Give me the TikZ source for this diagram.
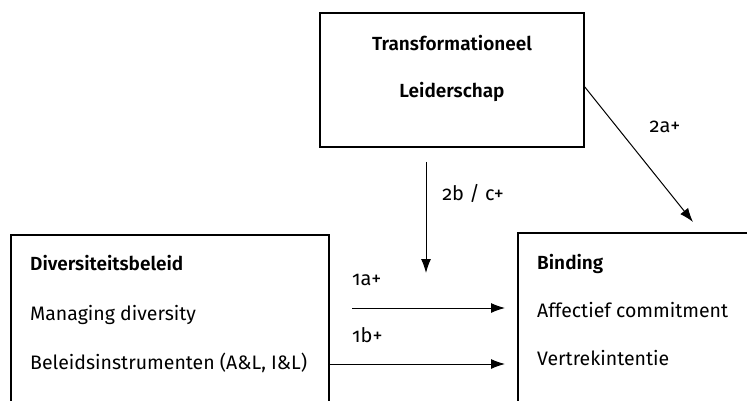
\documentclass[tikz,border=0pt]{standalone}
\usepackage{fontspec}
\setmainfont[Numbers=OldStyle,BoldFont={Fira Sans SemiBold}]{Fira Sans}
\usetikzlibrary{arrows.meta,positioning}

\begin{document}
\begin{tikzpicture}[x=1pt,y=-1pt,>={Latex[length=14pt,width=10pt]},
        box/.style={draw,line width=1.1pt,inner sep=0pt},
        txt/.style={anchor=mid west,inner sep=0pt,font=\fontsize{19.5}{23}\selectfont},
        head/.style={txt,font=\fontsize{19}{23}\selectfont\bfseries},
        lbl/.style={inner sep=0pt,font=\fontsize{20}{23}\selectfont},
        arr/.style={->,line width=1pt}]
        \clip (0,0) rectangle (747,401);
        \node[box,minimum width=264pt,minimum height=134pt] (lead) at (452,80) {};
        \node[box,minimum width=318pt,minimum height=260pt] (div) at (170,365) {};
        \node[box,minimum width=300pt,minimum height=260pt] (bind) at (668,363) {};

        \node[head,anchor=mid] (t1) at (452,48) {Transformationeel};
        \node[head,anchor=mid] (t2) at (452,95) {Leiderschap};

        \node[head] (d1) at (30,268) {Diversiteitsbeleid};
        \node[txt] (d2) at (30,318) {Managing diversity};
        \node[txt] (d3) at (30,367) {Beleidsinstrumenten (A\&L, I\&L)};

        \node[head] (b1) at (537,267) {Binding};
        \node[txt] (b2) at (537,315) {Affectief commitment};
        \node[txt] (b3) at (537,363) {Vertrekintentie};

        \coordinate (leadout) at (584,86);
        \coordinate (bindin) at (693,222);
        \coordinate (modtop) at (426,162);
        \coordinate (modtip) at (426,273);
        \coordinate (astart) at (352,308);
        \coordinate (aend) at (505,308);
        \coordinate (bend) at (505,364);

        \draw[arr] (leadout) -- (bindin);
        \draw[arr] (modtop) -- (modtip);
        \draw[arr] (astart) -- (aend);
        \draw[arr] (div.east |- bend) -- (bend);

        \node[lbl] (l2a) at (665,127) {2a+};
        \node[lbl] (l2b) at (473,193) {2b / c+};
        \node[lbl,anchor=mid west] (l1a) at (352,283) {1a+};
        \node[lbl,anchor=mid west] (l1b) at (352,340) {1b+};
\end{tikzpicture}
\end{document}
